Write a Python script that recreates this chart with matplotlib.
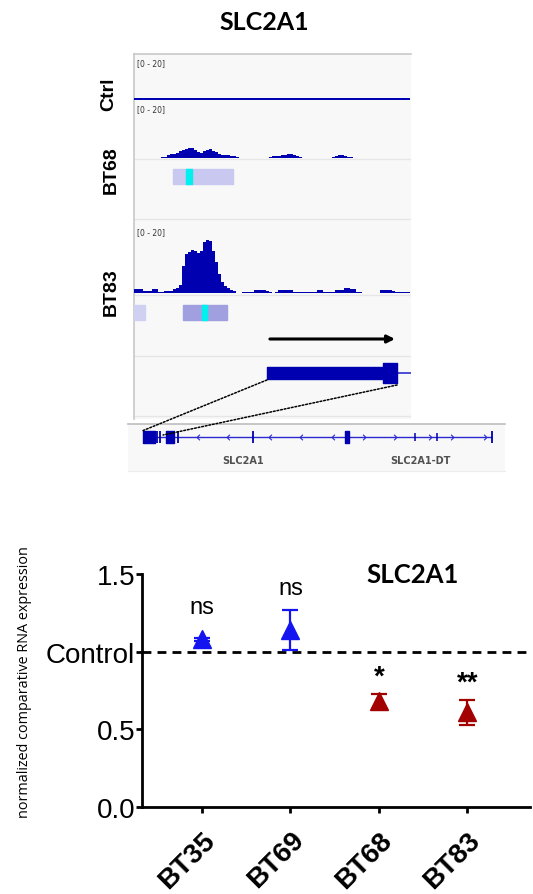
import matplotlib
matplotlib.use('Agg')
import matplotlib.pyplot as plt
import numpy as np
from matplotlib.patches import ConnectionPatch
from matplotlib.path import Path

W, H, DPI = 533, 895, 100

# ---------------- qPCR data ----------------
samples = ['BT35', 'BT69', 'BT68', 'BT83']
means = [1.08, 1.14, 0.68, 0.61]
errs = [0.01, 0.13, 0.05, 0.08]
sig_labels = ['ns', 'ns', '*', '**']
sig_y = [1.29, 1.41, 0.84, 0.80]
point_colors = ['#1414f0', '#1414f0', '#a30000', '#a30000']
ytick_vals = [0.0, 0.5, 1.0, 1.5]
ytick_labels = ['0.0', '0.5', 'Control', '1.5']
control_level = 1.0

# ---------------- browser data (coverage per bin, scale 0-20) ----------------
ctrl_cov = [0.6] * 16 + [1.0, 1.0, 0.6, 0.6, 1.0, 1.0, 0.6] + [0.6] * 69
bt68_cov = ([0] * 9 +
            [0.4, 0.4, 1.1, 1.3, 1.5, 1.8, 2.5, 2.9, 3.3, 3.8, 3.8, 3.0, 2.2, 2.0,
             2.6, 3.0, 3.1, 2.7, 2.2, 1.5, 1.1, 1.1, 1.0, 0.7, 0.7, 0.4] +
            [0] * 10 +
            [0.4, 0.7, 0.7, 0.7, 1.1, 1.1, 1.5, 1.5, 1.1, 0.7, 0.4] +
            [0] * 10 +
            [0.4, 0.7, 1.1, 1.1, 0.7, 0.4, 0.4] +
            [0] * 20)
bt83_cov = [1.2, 1.2, 1.2, 0.7, 0.7, 0.7, 1.2, 1.2, 0.4, 0.4, 0.6, 0.6, 0.6, 1.2,
            1.5, 2.5, 8.0, 11.5, 12.2, 12.7, 12.5, 11.8, 12.5, 15.0, 15.5, 15.2,
            12.5, 9.0, 5.5, 3.2, 2.0, 1.5, 0.9, 0.6, 0, 0, 0.3, 0.3, 0.3, 0.3,
            0.9, 0.9, 0.9, 0.9, 0.6, 0.3, 0, 0.3, 0.8, 0.8, 0.8, 0.8, 0.8, 0.3,
            0.3, 0.3, 0.3, 0.3, 0.3, 0.3, 0.3, 0.8, 0.8, 0.3, 0.3, 0.3, 0.3, 0.8,
            0.9, 0.9, 1.4, 1.5, 1.3, 1.3, 0.3, 0.3, 0, 0, 0, 0, 0, 0, 0.9, 0.9,
            0.9, 0.9, 0.6, 0.3, 0.3, 0.3, 0.3, 0.3]
bt68_peaks = [(13.0, 20.0)]
bt68_summits = [(17.3, 2.0)]
bt83_peaks_weak = [(0.0, 3.7)]
bt83_peaks = [(16.3, 14.7)]
bt83_summits = [(22.7, 1.6)]
tss_arrow = (45.3, 87.0)
zoom_cds = (44.3, 83.0)
zoom_utr = (83.0, 87.7)
zoom_intron = (87.7, 92.3)

# gene panel (units 0-100)
gene_span = (4.0, 96.6)
gene_blocks = [(4.0, 3.2), (10.1, 2.1), (57.6, 1.0)]
gene_ticks = [7.7, 8.5, 13.3, 33.2, 96.6]
gene_ticks_short = [76.1, 82.0]
chev_left = [18.6, 26.5, 37.7, 45.9, 54.4]
chev_right = [62.6, 70.8, 80.1, 85.9, 94.7]
gene_names = ['SLC2A1', 'SLC2A1-DT']
gene_name_x = [30.5, 77.5]


def px_rect(x0, y0, x1, y1):
    return [x0 / W, 1 - y1 / H, (x1 - x0) / W, (y1 - y0) / H]


fig = plt.figure(figsize=(W / DPI, H / DPI), dpi=DPI)
fig.patch.set_facecolor('white')

BLUE = '#0000b0'

# ---------------- browser panel ----------------
axb = fig.add_axes(px_rect(134, 55, 411, 420))
axb.set_xlim(0, 92.33)
axb.set_ylim(365, 0)
axb.set_facecolor('#f8f8f8')
for s in ['right', 'bottom']:
    axb.spines[s].set_visible(False)
for s in ['top', 'left']:
    axb.spines[s].set_color('#c8c8c8')
    axb.spines[s].set_linewidth(1.2)
axb.set_xticks([]); axb.set_yticks([])

for yy in [104.5, 165, 240.5, 302, 362]:
    axb.axhline(yy, color='#e6e6e6', lw=1, zorder=1)


def draw_cov(cov, base, ppu):
    vals = np.asarray(cov, dtype=float)
    edges = np.arange(len(vals) + 1)
    axb.fill_between(edges, base, base - np.append(vals, vals[-1]) * ppu,
                     step='post', color=BLUE, lw=0, zorder=3)


draw_cov(ctrl_cov, 45.5, 2.0)
draw_cov(bt68_cov, 104, 2.75)
draw_cov(bt83_cov, 239, 3.4)

for ty in [9, 55, 178]:
    axb.text(1.0, ty, '[0 - 20]', fontsize=5.5, color='#333333', va='center', ha='left',
             family='DejaVu Sans')

axb.broken_barh(bt68_peaks, (115, 15), color='#c8c8f0', zorder=3)
axb.broken_barh(bt68_summits, (115, 15), color='#00f0f0', zorder=4)
axb.broken_barh(bt83_peaks_weak, (251, 15), color='#d0d0f2', zorder=3)
axb.broken_barh(bt83_peaks, (251, 15), color='#a0a0e0', zorder=3)
axb.broken_barh(bt83_summits, (251, 15), color='#00f0f0', zorder=4)

axb.annotate('', xy=(tss_arrow[1], 285), xytext=(tss_arrow[0], 285),
             arrowprops=dict(arrowstyle='-|>', color='black', lw=2.2,
                             mutation_scale=11, shrinkA=0, shrinkB=0), zorder=5)
axb.broken_barh([(zoom_cds[0], zoom_cds[1] - zoom_cds[0])], (313, 12), color=BLUE, zorder=4)
axb.broken_barh([(zoom_utr[0], zoom_utr[1] - zoom_utr[0])], (309, 20), color=BLUE, zorder=4)
axb.hlines(319, zoom_intron[0], zoom_intron[1], color='#3030d0', lw=1.2, zorder=3)

# ---------------- gene panel ----------------
axg = fig.add_axes(px_rect(128, 425, 505, 472))
axg.set_xlim(0, 100)
axg.set_ylim(47, 0)
axg.set_facecolor('#f8f8f8')
for s in ['right', 'left']:
    axg.spines[s].set_visible(False)
axg.spines['top'].set_color('#bdbdbd')
axg.spines['top'].set_linewidth(1.2)
axg.spines['bottom'].set_color('#ececec')
axg.set_xticks([]); axg.set_yticks([])

axg.hlines(13, gene_span[0], gene_span[1], color='#2a2ad0', lw=1.0, zorder=2)
axg.broken_barh(gene_blocks, (6.5, 12.5), color=BLUE, zorder=3)
axg.vlines(gene_ticks, 6.5, 19, color=BLUE, lw=1.3, zorder=3)
axg.vlines(gene_ticks_short, 8.5, 17, color=BLUE, lw=1.1, zorder=3)
lchev = Path([(0.5, 1), (-0.5, 0), (0.5, -1)], [Path.MOVETO, Path.LINETO, Path.LINETO])
rchev = Path([(-0.5, 1), (0.5, 0), (-0.5, -1)], [Path.MOVETO, Path.LINETO, Path.LINETO])
axg.plot(chev_left, [13] * len(chev_left), ls='none', marker=lchev, ms=4,
         mfc='none', mec='#2a2ad0', mew=0.8, zorder=3)
axg.plot(chev_right, [13] * len(chev_right), ls='none', marker=rchev, ms=4,
         mfc='none', mec='#2a2ad0', mew=0.8, zorder=3)
for name, gx in zip(gene_names, gene_name_x):
    axg.text(gx, 36, name, fontsize=7, color='#505050', ha='center', va='center',
             fontweight='bold', family='DejaVu Sans')

for (xa, ya), (xg, yg) in [((44.3, 326), (3.7, 7)), ((87.7, 331), (9.3, 11))]:
    con = ConnectionPatch(xyA=(xa, ya), coordsA=axb.transData,
                          xyB=(xg, yg), coordsB=axg.transData,
                          linestyle=(0, (1.2, 1.2)), color='black', lw=1.1, zorder=6)
    fig.add_artist(con)

# labels
fig.text(264 / W, 1 - 22.5 / H, 'SLC2A1', fontsize=18, fontweight='bold',
         family='Lato', ha='center', va='center')
for lab, (lx, ly) in zip(['Ctrl', 'BT68', 'BT83'], [(109, 94), (111, 170), (111, 292)]):
    fig.text(lx / W, 1 - ly / H, lab, rotation=90, fontsize=14, fontweight='bold',
             family='Liberation Sans', ha='center', va='center')

# ---------------- qPCR plot ----------------
ax = fig.add_axes(px_rect(142, 575, 530, 808))
x = np.arange(len(samples))
ax.set_xlim(-0.68, 3.71)
ax.set_ylim(0, 1.5)
ax.axhline(control_level, color='black', lw=2.0, ls=(0, (3.2, 2.2)), zorder=1)
for xi, m, e, c in zip(x, means, errs, point_colors):
    ax.errorbar(xi, m, yerr=e, fmt='none', ecolor=c, elinewidth=1.6,
                capsize=6, capthick=1.6, zorder=2)
    ax.plot(xi, m, marker='^', ms=12.5, color=c, ls='none', zorder=3)
for xi, lab, sy in zip(x, sig_labels, sig_y):
    if lab == 'ns':
        ax.text(xi, sy, lab, ha='center', va='center', fontsize=17,
                family='Liberation Sans')
    else:
        ax.text(xi, sy, lab, ha='center', va='center', fontsize=20,
                fontweight='bold', family='Liberation Sans')
ax.text(0.698, 1.0, 'SLC2A1', transform=ax.transAxes, ha='center', va='center',
        fontsize=18.5, fontweight='bold', family='Lato')

for s in ['top', 'right']:
    ax.spines[s].set_visible(False)
for s in ['left', 'bottom']:
    ax.spines[s].set_linewidth(2.0)
ax.set_yticks(ytick_vals)
ax.set_yticklabels(ytick_labels, fontsize=20, family='Liberation Sans')
ax.set_xticks(x)
ax.set_xticklabels(samples, rotation=45, ha='right', rotation_mode='anchor',
                   fontsize=20, fontweight='bold', family='Liberation Sans')
ax.tick_params(axis='both', length=4, width=2.0, pad=1)
ax.tick_params(axis='x', pad=10)
ax.set_ylabel('normalized comparative RNA expression', fontsize=10.4, family='Open Sans')
ax.yaxis.set_label_coords(-0.284, 0.54)

fig.savefig('out.png', dpi=DPI)
